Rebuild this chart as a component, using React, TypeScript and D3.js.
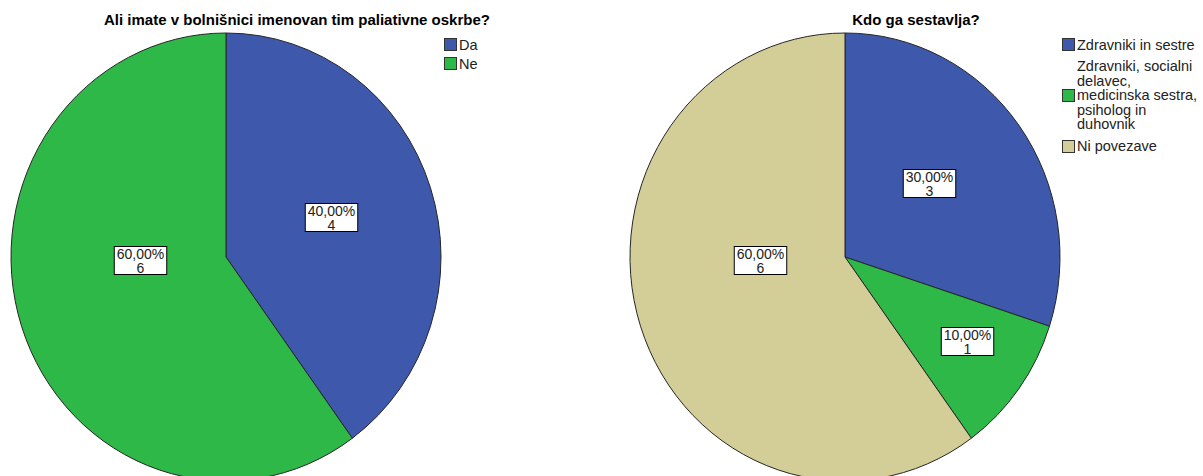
import React, { useEffect, useRef } from 'react';
import * as d3 from 'd3';

// ---- Data ----
const chart1Title = 'Ali imate v bolnišnici imenovan tim paliativne oskrbe?';
const chart1Categories = ['Da', 'Ne'];
const chart1Counts = [4, 6];

const chart2Title = 'Kdo ga sestavlja?';
const chart2Categories = [
  'Zdravniki in sestre',
  'Zdravniki, socialni delavec, medicinska sestra, psiholog in duhovnik',
  'Ni povezave',
];
const chart2Counts = [3, 1, 6];

const sliceColors = ['#3E58AC', '#2EB848', '#D3CE97'];

// ---- Layout (not data) ----
const W = 1203;
const H = 476;
const FONT = 'Arial, "Liberation Sans", sans-serif';

const layouts = [
  {
    cx: 226, cy: 257, rx: 215, ry: 224,
    titleX: 297, titleY: 25,
    legendX: 444, legendY: 35,
    // label placement: [angle in degrees clockwise from top, distance in px]
    labelPlace: [[69, 113], [268, 86]],
  },
  {
    cx: 845, cy: 257, rx: 215, ry: 224,
    titleX: 916, titleY: 25,
    legendX: 1062, legendY: 35,
    labelPlace: [[48.6, 112], [124.5, 148], [268, 85]],
  },
];

const locale = d3.formatLocale({ decimal: ',', thousands: '.', grouping: [3], currency: ['', '€'] });
const pct = locale.format('.2%');

function drawPie(
  g: d3.Selection<SVGGElement, unknown, null, undefined>,
  title: string,
  categories: string[],
  counts: number[],
  L: (typeof layouts)[number]
) {
  const total = d3.sum(counts);
  const pie = d3.pie<number>().sort(null).value((d) => d);
  const arcs = pie(counts);
  const arc = d3.arc<d3.PieArcDatum<number>>().innerRadius(0).outerRadius(L.rx);
  const color = d3.scaleOrdinal<number, string>().domain(d3.range(categories.length)).range(sliceColors);

  const pg = g.append('g').attr('transform', `translate(${L.cx},${L.cy}) scale(1,${L.ry / L.rx})`);
  pg.selectAll('path')
    .data(arcs)
    .join('path')
    .attr('d', arc as any)
    .attr('fill', (_d, i) => color(i))
    .attr('stroke', '#262626')
    .attr('stroke-width', 1)
    .attr('vector-effect', 'non-scaling-stroke');

  // title
  g.append('text')
    .attr('x', L.titleX)
    .attr('y', L.titleY)
    .attr('text-anchor', 'middle')
    .attr('font-family', FONT)
    .attr('font-weight', 'bold')
    .attr('font-size', 15)
    .attr('fill', '#000')
    .text(title);

  // labels
  arcs.forEach((a, i) => {
    const [angDeg, dist] = L.labelPlace[i];
    const ang = (angDeg * Math.PI) / 180;
    const x = L.cx + Math.sin(ang) * dist;
    const y = L.cy - Math.cos(ang) * dist;
    const lg = g.append('g');
    const rect = lg.append('rect').attr('fill', '#fff').attr('stroke', '#000').attr('stroke-width', 1);
    const t = lg
      .append('text')
      .attr('text-anchor', 'middle')
      .attr('font-family', FONT)
      .attr('font-size', 14)
      .attr('fill', '#222');
    t.append('tspan').attr('x', 0).attr('y', 0).text(pct(a.value / total));
    t.append('tspan').attr('x', 0).attr('y', 14).text(String(a.value));
    const bb = (t.node() as SVGTextElement).getBBox();
    const padX = 2.5;
    const padY = -1;
    rect
      .attr('x', bb.x - padX)
      .attr('y', bb.y - padY)
      .attr('width', bb.width + padX * 2)
      .attr('height', bb.height + padY * 2);
    const ox = x - (bb.x + bb.width / 2);
    const oy = y - (bb.y + bb.height / 2);
    lg.attr('transform', `translate(${Math.round(ox) + 0.5},${Math.round(oy) + 0.5})`);
  });

  // legend
  const fs = 14.5;
  const lineH = 14.5;
  const maxW = 125;
  const measure = g
    .append('text')
    .attr('font-family', FONT)
    .attr('font-size', fs)
    .attr('visibility', 'hidden');
  const wrap = (s: string) => {
    const words = s.split(' ');
    const lines: string[] = [];
    let cur = '';
    words.forEach((w) => {
      const test = cur ? cur + ' ' + w : w;
      measure.text(test);
      const wdt = (measure.node() as SVGTextElement).getComputedTextLength();
      if (wdt > maxW && cur) {
        lines.push(cur);
        cur = w;
      } else cur = test;
    });
    if (cur) lines.push(cur);
    return lines;
  };
  let top = L.legendY;
  categories.forEach((c, i) => {
    const lines = wrap(c);
    const multi = lines.length > 1;
    const pad = multi ? 5 : 2.25;
    const h = lines.length * lineH + (multi ? 10 : 4.5);
    const centerY = top + pad + (lines.length * lineH) / 2;
    g.append('rect')
      .attr('x', L.legendX + 0.5)
      .attr('y', Math.round(centerY - 6.5) + 0.5)
      .attr('width', 12)
      .attr('height', 12)
      .attr('fill', color(i))
      .attr('stroke', '#333')
      .attr('stroke-width', 1);
    const t = g
      .append('text')
      .attr('font-family', FONT)
      .attr('font-size', fs)
      .attr('fill', '#222');
    lines.forEach((ln, j) => {
      t.append('tspan')
        .attr('x', L.legendX + 15)
        .attr('y', top + pad + j * lineH + lineH / 2)
        .attr('dominant-baseline', 'central')
        .text(ln);
    });
    top += h;
  });
  measure.remove();
}

export default function App() {
  const ref = useRef<SVGSVGElement>(null);
  useEffect(() => {
    const svg = d3.select(ref.current!);
    svg.selectAll('*').remove();
    svg.append('rect').attr('width', W).attr('height', H).attr('fill', '#fff');
    drawPie(svg.append('g'), chart1Title, chart1Categories, chart1Counts, layouts[0]);
    drawPie(svg.append('g'), chart2Title, chart2Categories, chart2Counts, layouts[1]);
  }, []);
  return (
    <svg
      ref={ref}
      width={W}
      height={H}
      style={{ position: 'absolute', left: 0, top: 0, display: 'block' }}
    />
  );
}
